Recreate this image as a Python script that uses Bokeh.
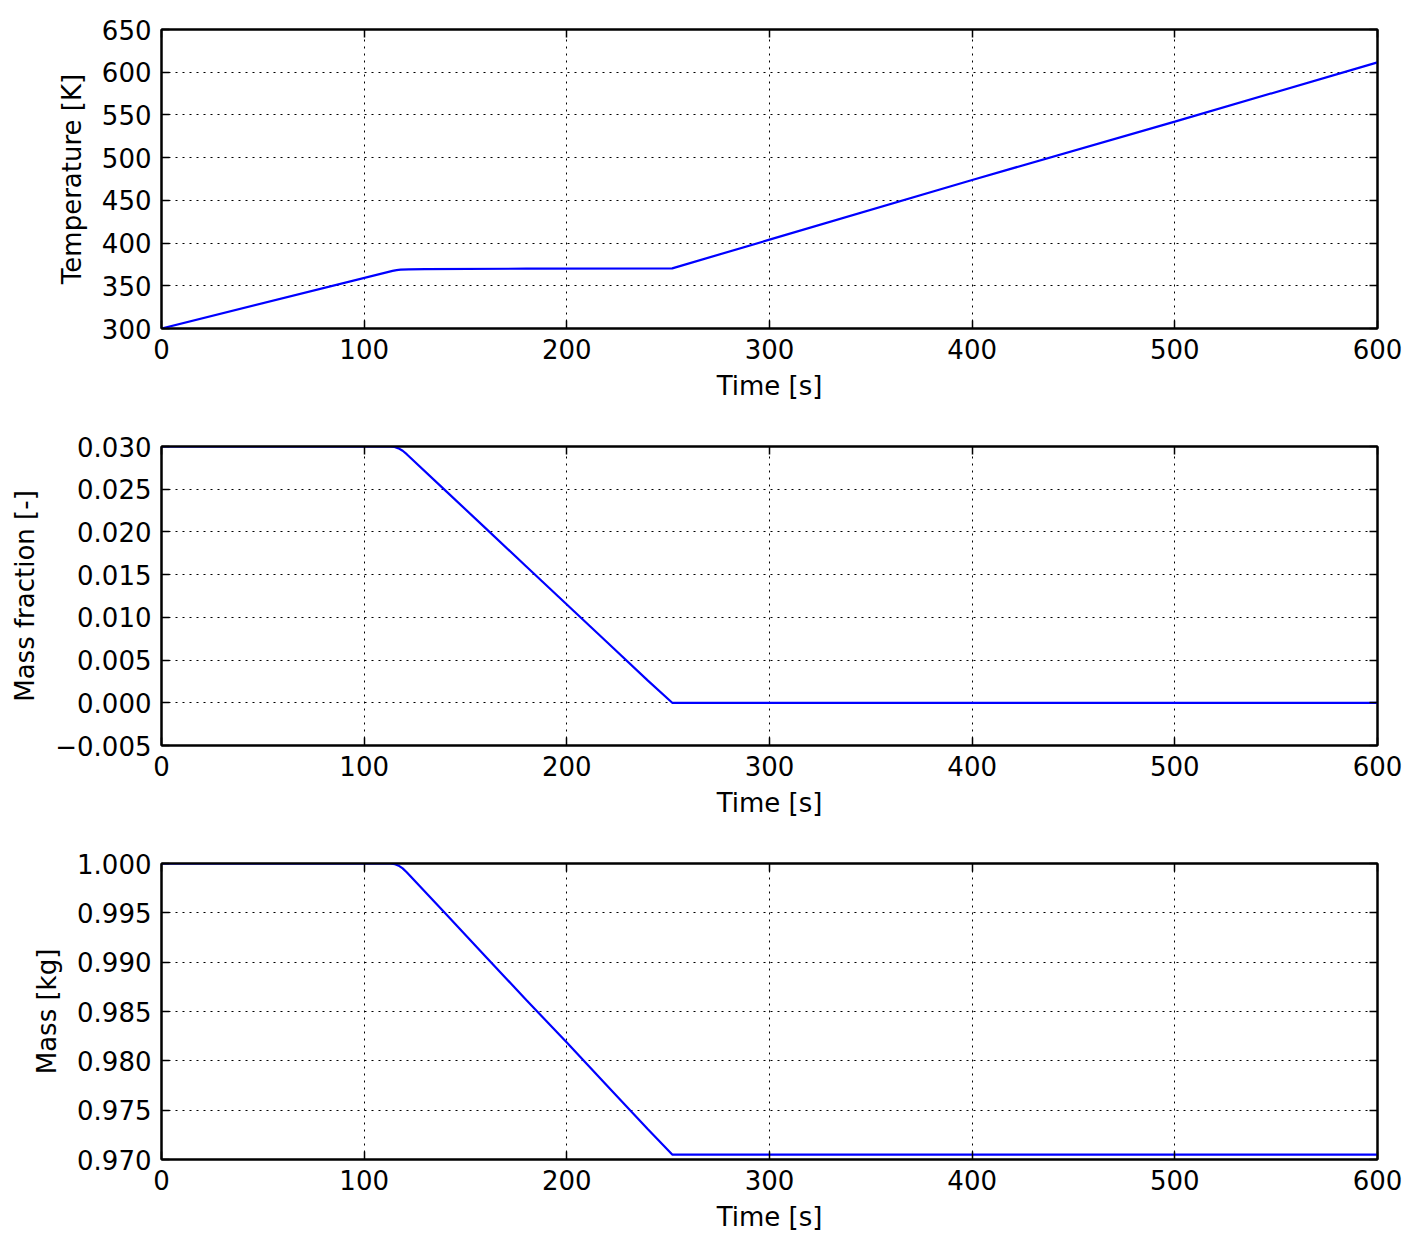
from bokeh.plotting import figure
from bokeh.layouts import column
from bokeh.models import FixedTicker, LinearAxis, Range1d
from bokeh.embed import file_html
from bokeh.resources import INLINE

# ---- data ----
time_T = [0, 114, 116, 118, 122, 130, 180, 252, 300, 400, 500, 600]
temperature = [300.0, 367.5, 368.4, 368.9, 369.3, 369.6, 370.0, 370.4, 404.0, 473.9, 542.2, 611.5]

time_Y = [0, 113, 115, 117, 119, 121, 140, 160, 180, 200, 220, 240, 252, 600]
mass_fraction = [0.03, 0.03, 0.02994, 0.02978, 0.0295, 0.0291, 0.02487, 0.02041,
                  0.01595, 0.0115, 0.00705, 0.0026, 0.0, 0.0]

time_m = [0, 113, 115, 117, 119, 121, 140, 160, 180, 200, 220, 240, 252, 600]
mass = [1.0, 1.0, 0.99994, 0.99978, 0.99951, 0.99912, 0.99496, 0.99056,
        0.98616, 0.98186, 0.97746, 0.97306, 0.9705, 0.9705]

x_ticks = [0, 100, 200, 300, 400, 500, 600]
T_ticks = [300, 350, 400, 450, 500, 550, 600, 650]
Y_ticks = [-0.005, 0.0, 0.005, 0.01, 0.015, 0.02, 0.025, 0.03]
Y_labels = ["\u22120.005", "0.000", "0.005", "0.010", "0.015", "0.020", "0.025", "0.030"]
m_ticks = [0.97, 0.975, 0.98, 0.985, 0.99, 0.995, 1.0]
m_labels = ["0.970", "0.975", "0.980", "0.985", "0.990", "0.995", "1.000"]

FONT = "DejaVu Sans"
FS = "26px"


def style_axis(ax, show_labels=True):
    ax.axis_line_color = "black"
    ax.axis_line_width = 2
    ax.major_tick_in = 8
    ax.major_tick_out = 0
    ax.major_tick_line_width = 1.5
    ax.major_tick_line_color = "black"
    ax.minor_tick_line_color = None
    ax.major_label_text_font = FONT
    ax.axis_label_text_font = FONT
    ax.axis_label_text_font_style = "normal"
    ax.axis_label_text_font_size = FS
    ax.axis_label_text_color = "black"
    if show_labels:
        ax.major_label_text_font_size = FS
        ax.major_label_text_color = "black"
        ax.major_label_standoff = 10
    else:
        ax.major_label_text_font_size = "1px"
        ax.major_label_text_color = None
        ax.major_label_standoff = 0


def make_fig(xs, ys, yr, yticks, ylabels, ylabel, height, bottom):
    p = figure(width=1407, height=height, output_backend="svg", toolbar_location=None,
               x_range=Range1d(0, 600), y_range=Range1d(*yr),
               min_border_left=161, min_border_right=30, min_border_top=29,
               min_border_bottom=bottom)
    p.line(xs, ys, line_color="#0000ff", line_width=2.2)
    p.xaxis.ticker = FixedTicker(ticks=x_ticks)
    p.yaxis.ticker = FixedTicker(ticks=yticks)
    if ylabels is not None:
        p.yaxis.major_label_overrides = {t: l for t, l in zip(yticks, ylabels)}
    p.xaxis.axis_label = "Time [s]"
    p.yaxis.axis_label = ylabel
    p.xaxis.axis_label_standoff = 9
    p.yaxis.axis_label_standoff = 12
    for ax in p.xaxis + p.yaxis:
        style_axis(ax)
    top = LinearAxis(ticker=FixedTicker(ticks=x_ticks))
    right = LinearAxis(ticker=FixedTicker(ticks=yticks))
    style_axis(top, False)
    style_axis(right, False)
    p.add_layout(top, "above")
    p.add_layout(right, "right")
    p.xgrid.ticker = FixedTicker(ticks=x_ticks)
    p.ygrid.ticker = FixedTicker(ticks=yticks)
    for g in (p.xgrid, p.ygrid):
        g.grid_line_color = "black"
        g.grid_line_dash = "2 5"
        g.grid_line_width = 1
    p.outline_line_color = "black"
    p.outline_line_width = 2
    p.background_fill_color = "white"
    p.border_fill_color = "white"
    return p


p1 = make_fig(time_T, temperature, (300, 650), T_ticks, None, "Temperature [K]", 417, 89)
p2 = make_fig(time_Y, mass_fraction, (-0.005, 0.030), Y_ticks, Y_labels, "Mass fraction [-]", 417, 89)
p3 = make_fig(time_m, mass, (0.970, 1.000), m_ticks, m_labels, "Mass [kg]", 400, 72)

layout = column(p1, p2, p3, spacing=0)
open("out.html", "w").write(file_html(layout, INLINE))
